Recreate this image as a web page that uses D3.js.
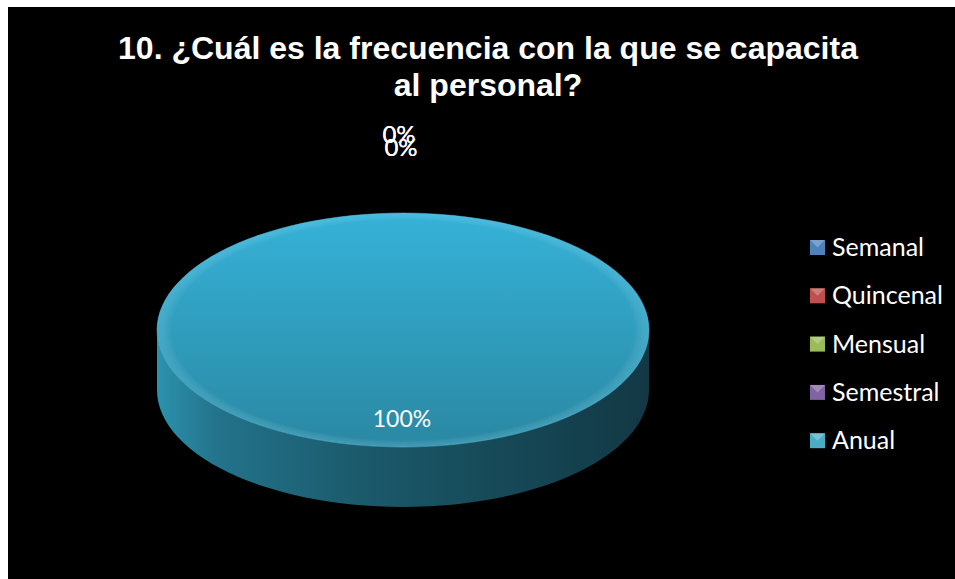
<!DOCTYPE html>
<html lang="es">
<head>
<meta charset="UTF-8">
<title>Frecuencia de capacitación</title>
<script src="https://cdn.jsdelivr.net/npm/d3@7"></script>
<style>
    html, body { margin: 0; padding: 0; background: #fff; }
    svg { display: block; }
    .title { font-family: "Liberation Sans", Arial, sans-serif; font-weight: bold; font-size: 32px; fill: #fff; }
    .lbl { font-family: Lato, "Open Sans", sans-serif; fill: #fff; }
    .legend text { font-family: Lato, "Open Sans", sans-serif; font-size: 25px; fill: #fff; }
</style>
</head>
<body>
<svg id="chart" width="955" height="579"></svg>
<script>
    const categories = ["Semanal", "Quincenal", "Mensual", "Semestral", "Anual"];
    const values = [0, 0, 0, 0, 100];
    const colors = ["#4f81bd", "#c0504d", "#9bbb59", "#8064a2", "#4bacc6"];
    const titleLines = ["10. ¿Cuál es la frecuencia con la que se capacita", "al personal?"];

    const W = 955, H = 579;
    const svg = d3.select("#chart");

    svg.append("rect").attr("x", 8).attr("y", 7).attr("width", W - 8).attr("height", H - 7).attr("fill", "#000");

    svg.append("text").attr("class", "title")
        .attr("x", 488).attr("y", 59).attr("text-anchor", "middle")
        .selectAll("tspan").data(titleLines).join("tspan")
        .attr("x", 488).attr("dy", (d, i) => i ? 37 : 0)
        .text(d => d);

    // pie geometry (tilted ellipse)
    const cx = 403, cy = 330, rx = 246, ry = 117, depth = 60;
    const total = d3.sum(values);
    const pct = d3.scaleLinear().domain([0, total]).range([0, 100]);
    const pie = d3.pie().sort(null).value(d => d.v);
    const arcs = pie(values.map((v, i) => ({ v, i })));

    const defs = svg.append("defs");
    const topGrad = defs.append("linearGradient").attr("id", "topG").attr("x1", 0).attr("y1", 0).attr("x2", 0).attr("y2", 1);
    topGrad.append("stop").attr("offset", "0%").attr("stop-color", "#36b2d8");
    topGrad.append("stop").attr("offset", "100%").attr("stop-color", "#2a88a3");
    const sideGrad = defs.append("linearGradient").attr("id", "sideG").attr("x1", 0).attr("y1", 0).attr("x2", 1).attr("y2", 0);
    sideGrad.append("stop").attr("offset", "0%").attr("stop-color", "#2c92ae");
    sideGrad.append("stop").attr("offset", "12%").attr("stop-color", "#23738b");
    sideGrad.append("stop").attr("offset", "45%").attr("stop-color", "#1a5768");
    sideGrad.append("stop").attr("offset", "100%").attr("stop-color", "#123844");
    const rimGrad = defs.append("radialGradient").attr("id", "rimG");
    rimGrad.append("stop").attr("offset", "94%").attr("stop-color", "#fff").attr("stop-opacity", 0);
    rimGrad.append("stop").attr("offset", "100%").attr("stop-color", "#8adcf2").attr("stop-opacity", 0.22);

    // d3 angle (0 at top, clockwise) -> point on ellipse
    const pt = (a, dy) => [cx + rx * Math.sin(a), cy - ry * Math.cos(a) + (dy || 0)];

    function sidePath(a0, a1) {
        // front part of the side wall: angles between PI/2 and 3PI/2
        const s = Math.max(a0, Math.PI / 2), e = Math.min(a1, 3 * Math.PI / 2);
        if (e <= s) return null;
        const n = 60, top = [], bot = [];
        for (let k = 0; k <= n; k++) {
            const a = s + (e - s) * k / n;
            top.push(pt(a));
            bot.push(pt(a, depth));
        }
        return "M" + top.map(p => p.join(",")).join("L") + "L" + bot.reverse().map(p => p.join(",")).join("L") + "Z";
    }

    function topPath(a0, a1) {
        const n = 120, pts = [];
        for (let k = 0; k <= n; k++) pts.push(pt(a0 + (a1 - a0) * k / n));
        const full = a1 - a0 >= 2 * Math.PI - 1e-6;
        return "M" + (full ? "" : cx + "," + cy + "L") + pts.map(p => p.join(",")).join("L") + "Z";
    }

    const g = svg.append("g");
    arcs.filter(d => d.data.v > 0).forEach(d => {
        const sp = sidePath(d.startAngle, d.endAngle);
        if (sp) g.append("path").attr("d", sp).attr("fill", "url(#sideG)");
        g.append("path").attr("d", topPath(d.startAngle, d.endAngle)).attr("fill", "url(#topG)");
        g.append("path").attr("d", topPath(d.startAngle, d.endAngle)).attr("fill", "url(#rimG)");
        g.append("path").attr("d", topPath(d.startAngle, d.endAngle)).attr("fill", "none")
            .attr("stroke", "#5cc6e4").attr("stroke-opacity", 0.45).attr("stroke-width", 1);
    });

    // data labels (zero slices stack at the top, as in the original)
    const zeroOffsets = [[-4, 0], [-2, 13], [-4, 0], [-2, 13]];
    arcs.forEach((d, i) => {
        const p = pct(d.data.v);
        const mid = (d.startAngle + d.endAngle) / 2;
        if (d.data.v > 0) {
            const full = d.endAngle - d.startAngle >= 2 * Math.PI - 1e-6;
            const [x, y] = full ? [cx, cy + 88] : pt(mid);
            g.append("text").attr("class", "lbl").attr("x", x - 1).attr("y", y + 9)
                .attr("text-anchor", "middle").attr("font-size", 23).text(d3.format(".0f")(p) + "%");
        } else {
            const [x, y] = pt(mid, -70);
            const o = zeroOffsets[i];
            g.append("text").attr("class", "lbl").attr("x", x + o[0]).attr("y", y + o[1])
                .attr("text-anchor", "middle").attr("font-size", 24).text(d3.format(".0f")(p) + "%");
        }
    });

    // legend
    const legend = svg.append("g").attr("class", "legend").attr("transform", "translate(810,247)");
    const item = legend.selectAll("g").data(categories).join("g")
        .attr("transform", (d, i) => `translate(0,${i * 48.3})`);
    item.append("rect").attr("x", 0).attr("y", -7).attr("width", 15).attr("height", 15)
        .attr("fill", (d, i) => colors[i]);
    item.append("path").attr("d", "M0,-7L15,-7L7.5,0.5Z").attr("fill", "#fff").attr("opacity", 0.25);
    item.append("text").attr("x", 22).attr("y", 9).text(d => d);
</script>
</body>
</html>
